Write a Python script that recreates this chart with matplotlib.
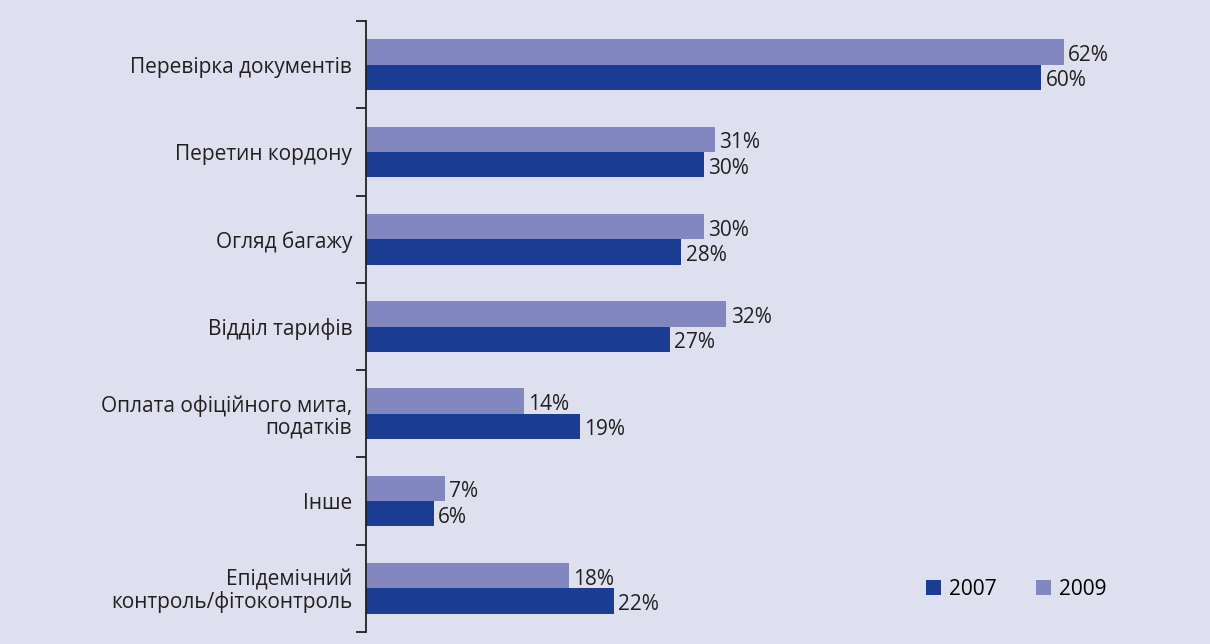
import matplotlib.pyplot as plt
import numpy as np

plt.rcParams['font.family'] = ['Open Sans', 'DejaVu Sans']

categories = ['Перевірка документів', 'Перетин кордону', 'Огляд багажу',
              'Відділ тарифів', 'Оплата офіційного мита,\nподатків', 'Інше',
              'Епідемічний\nконтроль/фітоконтроль']
v2007 = [60, 30, 28, 27, 19, 6, 22]
v2009 = [62, 31, 30, 32, 14, 7, 18]

bg = '#dfe0ef'
c2007 = '#1b3c93'
c2009 = '#8287bf'
txt = '#231f20'
fs = 15

fig = plt.figure(figsize=(12.1, 6.44), dpi=100, facecolor=bg)
ax = fig.add_axes([0.3025, 0.0186, 0.6975, 0.9488], facecolor=bg)

y = np.arange(len(categories))
h = 0.29
ax.barh(y - h / 2, v2009, height=h, color=c2009, label='2009')
ax.barh(y + h / 2, v2007, height=h, color=c2007, label='2007')

# value labels to the right of each bar
for yi, a, b in zip(y, v2007, v2009):
    ax.text(b + 0.4, yi - h / 2 + 0.04, f'{b}%', va='center', ha='left', fontsize=fs, color=txt)
    ax.text(a + 0.4, yi + h / 2 + 0.04, f'{a}%', va='center', ha='left', fontsize=fs, color=txt)

ax.set_xlim(0, 75)
ax.set_ylim(len(categories) - 0.5, -0.5)
ax.set_yticks(y)
ax.set_yticklabels(categories, fontsize=fs, color=txt, ha='right', linespacing=1.05)
ax.set_yticks(np.arange(len(categories) + 1) - 0.5, minor=True)
ax.tick_params(axis='y', which='major', length=0, pad=10)
ax.tick_params(axis='y', which='minor', length=7, width=1.3, color=txt)
ax.set_xticks([])
for s in ['top', 'right', 'bottom']:
    ax.spines[s].set_visible(False)
ax.spines['left'].set_color(txt)
ax.spines['left'].set_linewidth(1.3)

handles, labels = ax.get_legend_handles_labels()
ax.legend(handles[::-1], labels[::-1], loc='lower right', bbox_to_anchor=(0.9, 0.022),
          ncol=2, frameon=False, fontsize=fs, handlelength=0.7, handleheight=0.7,
          columnspacing=1.9, handletextpad=0.4)

fig.savefig('out.png', dpi=100, facecolor=bg)
